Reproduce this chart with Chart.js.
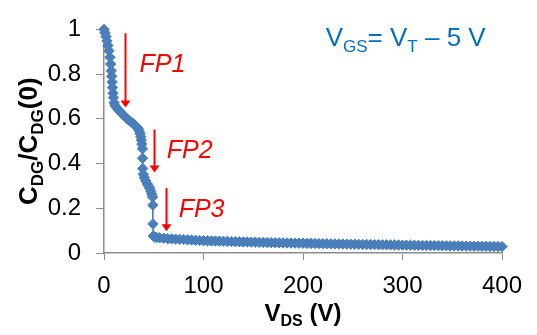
<!DOCTYPE html>
<html>
<head>
<meta charset="utf-8">
<script src="https://cdn.jsdelivr.net/npm/chart.js@4.4.1/dist/chart.umd.min.js"></script>
<style>
  body { margin: 0; background: #fff; }
  canvas { display: block; }
</style>
</head>
<body>
<canvas id="myChart" width="537" height="335"></canvas>
<script>
// V_DS (V)
const vds = [
  0, 1, 2, 3, 4, 5, 6, 6.7, 7.3, 7.8, 8.2, 8.5, 9, 9.5, 10.2,
  11, 13, 15, 17, 19, 21, 23, 25, 27, 29, 31, 33, 34.5, 35.5, 36.3, 37, 37.5, 38,
  38.7, 38.8, 38.9, 39.5, 40.5, 42, 43.5, 45, 46, 47, 48, 48.8, 49.1, 49.2, 49.6, 51, 53,
  56, 60, 64, 68, 72, 76, 80, 84, 88, 92, 96, 100, 104, 108, 112, 116, 120, 124, 128,
  132, 136, 140, 144, 148, 152, 156, 160, 164, 168, 172, 176, 180, 184, 188, 192, 196,
  200, 204, 208, 212, 216, 220, 224, 228, 232, 236, 240, 244, 248, 252, 256, 260, 264,
  268, 272, 276, 280, 284, 288, 292, 296, 300, 304, 308, 312, 316, 320, 324, 328, 332,
  336, 340, 344, 348, 352, 356, 360, 364, 368, 372, 376, 380, 384, 388, 392, 396, 400
];
// C_DG / C_DG(0)
const cdgRatio = [
  1.0, 0.985, 0.968, 0.948, 0.928, 0.905, 0.875, 0.845, 0.815, 0.79, 0.765, 0.74, 0.715, 0.695, 0.672,
  0.66, 0.648, 0.638, 0.628, 0.618, 0.609, 0.601, 0.594, 0.587, 0.58, 0.572, 0.563, 0.555, 0.545, 0.533, 0.52, 0.505, 0.487,
  0.466, 0.424, 0.378, 0.352, 0.337, 0.322, 0.309, 0.298, 0.288, 0.276, 0.263, 0.25, 0.214, 0.13, 0.076, 0.071, 0.069,
  0.068, 0.066, 0.064, 0.063, 0.062, 0.061, 0.060, 0.059, 0.058, 0.057, 0.056, 0.055, 0.0545, 0.054, 0.0535, 0.053, 0.0525, 0.052, 0.051,
  0.0505, 0.050, 0.0495, 0.049, 0.0485, 0.048, 0.0475, 0.047, 0.0467, 0.0463, 0.046, 0.0456, 0.0452, 0.0448, 0.0445, 0.0441, 0.0437,
  0.0434, 0.043, 0.0427, 0.0423, 0.042, 0.0416, 0.0413, 0.041, 0.0406, 0.0403, 0.04, 0.0397, 0.0394, 0.039, 0.0387, 0.0384, 0.0381,
  0.0378, 0.0375, 0.0372, 0.0369, 0.0366, 0.0363, 0.036, 0.0357, 0.0354, 0.0351, 0.0348, 0.0345, 0.0342, 0.034, 0.0337, 0.0334, 0.0331,
  0.0328, 0.0326, 0.0323, 0.032, 0.0317, 0.0315, 0.0312, 0.031, 0.0307, 0.0304, 0.0302, 0.0299, 0.0297, 0.0294, 0.0292, 0.0289, 0.0287
];
const xTicks = [0, 100, 200, 300, 400];
const yTicks = [0, 0.2, 0.4, 0.6, 0.8, 1];
const yTickLabels = ['0', '0.2', '0.4', '0.6', '0.8', '1'];

const FONT = '"Liberation Sans", Arial, sans-serif';

// annotations, in data coordinates
const notes = [
  { text: 'FP1', x: 35.7, y: 0.811, ax: 21.6, from: 0.983, to: 0.651 },
  { text: 'FP2', x: 63, y: 0.423, ax: 50.3, from: 0.552, to: 0.36 },
  { text: 'FP3', x: 75, y: 0.16, ax: 62, from: 0.29, to: 0.097 }
];

function partFont(p, size, weight) {
  return weight + ' ' + (p[1] ? Math.round(size * 0.66) : size) + 'px ' + FONT;
}

// draws text with subscripts, parts = [[text, isSub], ...]
function drawRich(ctx, parts, x, y, size, weight, align) {
  let w = 0;
  parts.forEach(p => { ctx.font = partFont(p, size, weight); w += ctx.measureText(p[0]).width; });
  let cx = align === 'center' ? x - w / 2 : x;
  ctx.textAlign = 'left';
  ctx.textBaseline = 'alphabetic';
  parts.forEach(p => {
    ctx.font = partFont(p, size, weight);
    ctx.fillText(p[0], cx, p[1] ? y + size * 0.22 : y);
    cx += ctx.measureText(p[0]).width;
  });
}

const extras = {
  id: 'extras',
  afterDraw(chart) {
    const ctx = chart.ctx;
    const xs = chart.scales.x, ys = chart.scales.y;
    const area = chart.chartArea;
    ctx.save();
    ctx.fillStyle = '#000';
    drawRich(ctx, [['V', 0], ['DS', 1], [' (V)', 0]], (area.left + area.right) / 2, 321, 24, 'bold', 'center');
    ctx.save();
    ctx.translate(37, (area.top + area.bottom) / 2);
    ctx.rotate(-Math.PI / 2);
    drawRich(ctx, [['C', 0], ['DG', 1], ['/C', 0], ['DG', 1], ['(0)', 0]], 0, 0, 26, 'bold', 'center');
    ctx.restore();

    ctx.fillStyle = '#0070c0';
    drawRich(ctx, [['V', 0], ['GS', 1], ['= V', 0], ['T', 1], [' \u2013 5 V', 0]],
      xs.getPixelForValue(222.8), ys.getPixelForValue(0.926), 26, 'normal', 'left');

    ctx.fillStyle = '#ff0000';
    ctx.strokeStyle = '#ff0000';
    ctx.lineWidth = 2;
    notes.forEach(n => {
      ctx.font = 'italic 25px ' + FONT;
      ctx.textAlign = 'left';
      ctx.fillText(n.text, xs.getPixelForValue(n.x), ys.getPixelForValue(n.y));
      const ax = Math.round(xs.getPixelForValue(n.ax)) + 0.5;
      const y0 = ys.getPixelForValue(n.from), y1 = ys.getPixelForValue(n.to);
      ctx.beginPath();
      ctx.moveTo(ax, y0);
      ctx.lineTo(ax, y1 - 6);
      ctx.stroke();
      ctx.beginPath();
      ctx.moveTo(ax - 5, y1 - 7);
      ctx.lineTo(ax + 5, y1 - 7);
      ctx.lineTo(ax, y1);
      ctx.closePath();
      ctx.fill();
    });
    ctx.restore();
  }
};

const ctx = document.getElementById('myChart');

new Chart(ctx, {
  type: 'scatter',
  data: {
    datasets: [{
      data: vds.map((v, i) => ({ x: v, y: cdgRatio[i] })),
      showLine: true,
      borderColor: '#4a7ebb',
      backgroundColor: '#4a7ebb',
      borderWidth: 1.5,
      pointStyle: 'rectRot',
      pointRadius: 5.2,
      pointBorderWidth: 1,
      clip: false
    }]
  },
  options: {
    responsive: false,
    animation: false,
    layout: { padding: { top: 15, right: 35, left: 0, bottom: 0 } },
    plugins: { legend: { display: false }, tooltip: { enabled: false } },
    scales: {
      x: {
        type: 'linear',
        min: 0,
        max: 400,
        afterBuildTicks: s => { s.ticks = xTicks.map(v => ({ value: v })); },
        afterFit: s => { s.height = 82; },
        grid: { drawOnChartArea: false, tickLength: 7, color: '#8c8c8c' },
        border: { color: '#8c8c8c', width: 1.5 },
        ticks: { color: '#000', padding: 12, maxRotation: 0, font: { family: FONT, size: 24 } }
      },
      y: {
        min: 0,
        max: 1,
        afterBuildTicks: s => { s.ticks = yTicks.map(v => ({ value: v })); },
        afterFit: s => { s.width = 104; },
        grid: { drawOnChartArea: false, tickLength: 8, color: '#8c8c8c' },
        border: { color: '#8c8c8c', width: 1.5 },
        ticks: {
          color: '#000',
          padding: 15,
          font: { family: FONT, size: 24 },
          callback: (v, i) => yTickLabels[i]
        }
      }
    }
  },
  plugins: [extras]
});
</script>
</body>
</html>
